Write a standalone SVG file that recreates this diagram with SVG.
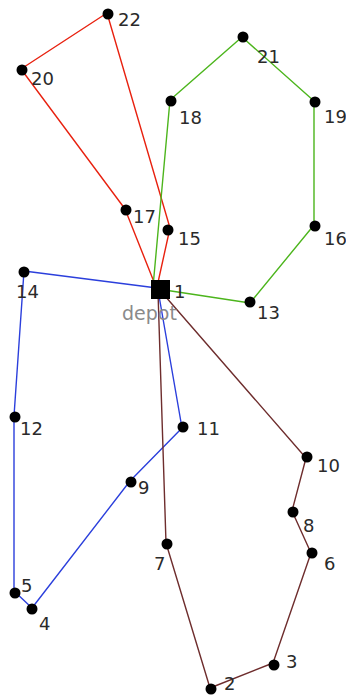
<svg xmlns="http://www.w3.org/2000/svg" width="346" height="698" viewBox="0 0 346 698">
<style>
.r{fill:none;stroke-width:1.4;stroke-linejoin:round}
.red{stroke:#e8210f}
.green{stroke:#4cb51c}
.blue{stroke:#2b3fdc}
.brown{stroke:#6e2d2d}
.dot{fill:#000}
.lbl{font-family:"DejaVu Sans",sans-serif;font-size:18px;fill:#2a2a2a}
.dep{font-family:"DejaVu Sans",sans-serif;font-size:19px;fill:#8a8a8a}
</style>
<rect width="346" height="698" fill="#fff"/>
<g id="connectors">
<polyline class="r red" points="156,287 125,209 21,69 107,13 170,228 157,287"/>
<polyline class="r green" points="153,287 170,100 242,37 314,101 314,225 250,303 158,289"/>
<polyline class="r blue" points="157,288 24,271 14,416 14,591 32,608 130,481 182,428 158,290"/>
<polyline class="r brown" points="158,288 306,458 292,511 311,553 273,663 210,688 166,543 158,292"/>
</g>
<g id="n22"><circle class="dot" cx="108" cy="14" r="5.5"/><text class="lbl" x="118" y="26">22</text></g>
<g id="n20"><circle class="dot" cx="22" cy="70" r="5.5"/><text class="lbl" x="31" y="85">20</text></g>
<g id="n21"><circle class="dot" cx="243" cy="37" r="5.5"/><text class="lbl" x="257" y="63">21</text></g>
<g id="n18"><circle class="dot" cx="171" cy="101" r="5.5"/><text class="lbl" x="179" y="124">18</text></g>
<g id="n19"><circle class="dot" cx="315" cy="102" r="5.5"/><text class="lbl" x="324" y="123">19</text></g>
<g id="n17"><circle class="dot" cx="126" cy="210" r="5.5"/><text class="lbl" x="133" y="223">17</text></g>
<g id="n15"><circle class="dot" cx="168" cy="230" r="5.5"/><text class="lbl" x="178" y="245">15</text></g>
<g id="n16"><circle class="dot" cx="315" cy="226" r="5.5"/><text class="lbl" x="324" y="245">16</text></g>
<g id="n14"><circle class="dot" cx="24" cy="272" r="5.5"/><text class="lbl" x="16" y="298">14</text></g>
<g id="n13"><circle class="dot" cx="250" cy="302" r="5.5"/><text class="lbl" x="257" y="319">13</text></g>
<g id="n1"><rect x="151" y="280" width="19" height="19" fill="#000"/><text class="lbl" x="174" y="298">1</text><text class="dep" x="122" y="320">depot</text></g>
<g id="n12"><circle class="dot" cx="15" cy="417" r="5.5"/><text class="lbl" x="20" y="435">12</text></g>
<g id="n11"><circle class="dot" cx="183" cy="427" r="5.5"/><text class="lbl" x="197" y="435">11</text></g>
<g id="n10"><circle class="dot" cx="307" cy="457" r="5.5"/><text class="lbl" x="317" y="472">10</text></g>
<g id="n9"><circle class="dot" cx="131" cy="482" r="5.5"/><text class="lbl" x="138" y="494">9</text></g>
<g id="n8"><circle class="dot" cx="293" cy="512" r="5.5"/><text class="lbl" x="303" y="532">8</text></g>
<g id="n7"><circle class="dot" cx="167" cy="544" r="5.5"/><text class="lbl" x="154" y="570">7</text></g>
<g id="n6"><circle class="dot" cx="312" cy="553" r="5.5"/><text class="lbl" x="324" y="570">6</text></g>
<g id="n5"><circle class="dot" cx="15" cy="593" r="5.5"/><text class="lbl" x="21" y="592">5</text></g>
<g id="n4"><circle class="dot" cx="32" cy="609" r="5.5"/><text class="lbl" x="39" y="630">4</text></g>
<g id="n3"><circle class="dot" cx="274" cy="665" r="5.5"/><text class="lbl" x="286" y="668">3</text></g>
<g id="n2"><circle class="dot" cx="211" cy="689" r="5.5"/><text class="lbl" x="224" y="690">2</text></g>
</svg>
